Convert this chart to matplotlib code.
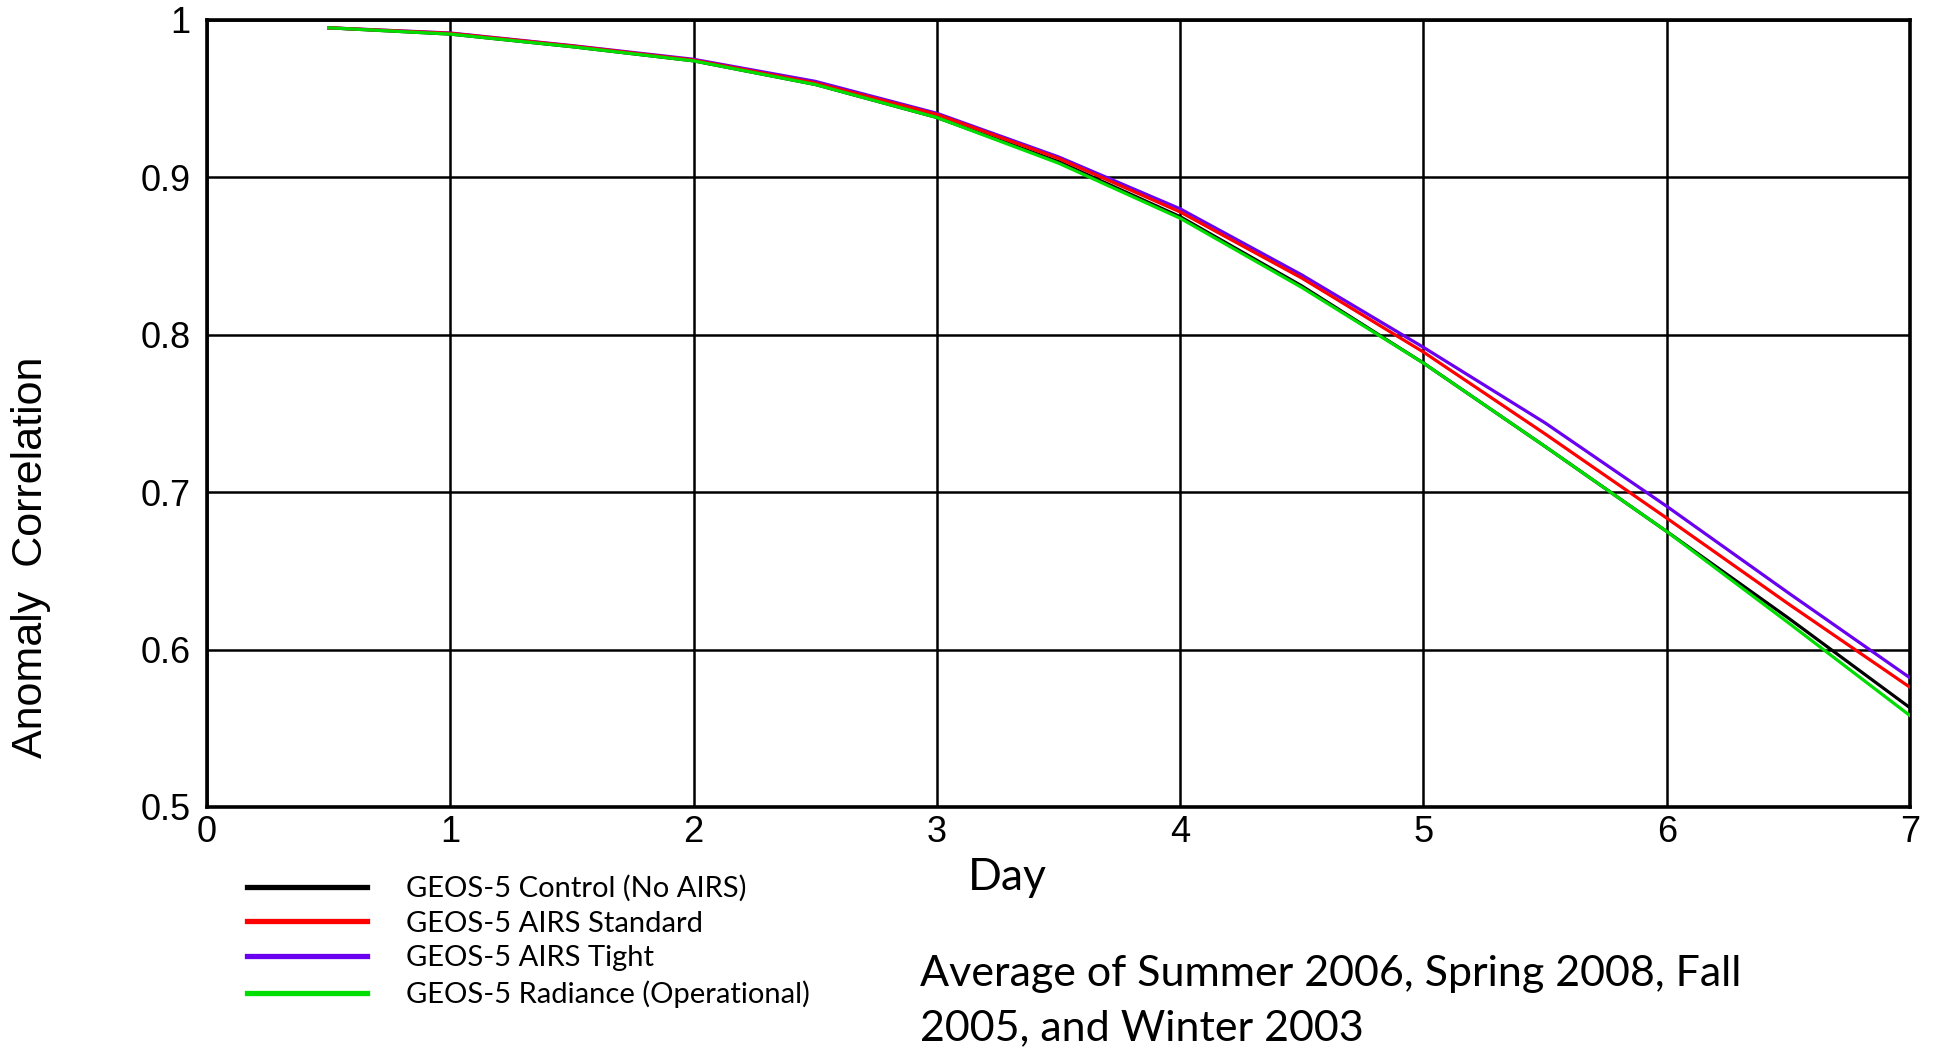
import numpy as np
import matplotlib.pyplot as plt

# forecast day
days = [0.5, 1, 1.5, 2, 2.5, 3, 3.5, 4, 4.5, 5, 5.5, 6, 6.5, 7]

control = [0.995, 0.991, 0.983, 0.974, 0.959, 0.938, 0.910, 0.875, 0.831, 0.782, 0.729, 0.675, 0.620, 0.563]
airs_std = [0.995, 0.9915, 0.9835, 0.9745, 0.960, 0.940, 0.912, 0.878, 0.836, 0.789, 0.737, 0.6835, 0.629, 0.576]
airs_tight = [0.995, 0.9917, 0.9837, 0.975, 0.961, 0.9407, 0.913, 0.880, 0.838, 0.792, 0.744, 0.691, 0.636, 0.582]
radiance = [0.995, 0.991, 0.983, 0.974, 0.959, 0.938, 0.909, 0.874, 0.830, 0.782, 0.729, 0.675, 0.617, 0.558]

labels = ["GEOS-5 Control (No AIRS)", "GEOS-5 AIRS Standard",
          "GEOS-5 AIRS Tight", "GEOS-5 Radiance (Operational)"]
xticks = [0, 1, 2, 3, 4, 5, 6, 7]
yticks = [0.5, 0.6, 0.7, 0.8, 0.9, 1.0]
yticklabels = ["0.5", "0.6", "0.7", "0.8", "0.9", "1"]

fig = plt.figure(figsize=(19.38, 10.49), dpi=100)
ax = fig.add_axes([0.1068, 0.2307, 0.8788, 0.7503])

lw = 2.3
l_ctrl, = ax.plot(days, control, color="black", lw=lw, zorder=3)
l_tight, = ax.plot(days, airs_tight, color="#6a00f0", lw=lw, zorder=4)
l_std, = ax.plot(days, airs_std, color="#ff0000", lw=lw, zorder=5)
l_rad, = ax.plot(days, radiance, color="#00dd00", lw=lw, zorder=6)

ax.set_xlim(0, 7)
ax.set_ylim(0.5, 1.0)
ax.set_xticks(xticks)
ax.set_yticks(yticks)
ax.set_yticklabels(yticklabels)
ax.grid(True, color="black", lw=1.8)
ax.set_axisbelow(True)
for s in ax.spines.values():
    s.set_linewidth(2.6)
    s.set_color("black")
ax.tick_params(length=0, labelsize=26)
ax.tick_params(axis="x", pad=6)
ax.tick_params(axis="y", pad=12)
for t in ax.get_xticklabels() + ax.get_yticklabels():
    t.set_family("Liberation Sans")

fig.text(31 / 1938, 1 - 557 / 1049, "Anomaly  Correlation", rotation=90,
         ha="center", va="center", fontsize=31, family="Liberation Sans")
fig.text(968 / 1938, 1 - 878 / 1049, "Day", ha="left", va="center",
         fontsize=32, family="Lato")
fig.text(920 / 1938, 1 - 1001 / 1049,
         "Average of Summer 2006, Spring 2008, Fall\n2005, and Winter 2003",
         ha="left", va="center", fontsize=31, family="Lato", linespacing=1.5)

leg = fig.legend([l_ctrl, l_std, l_tight, l_rad], labels, loc="upper left",
                 bbox_to_anchor=(247 / 1938, 1 - 875 / 1049), frameon=False,
                 prop={"family": "Lato", "size": 21}, handlelength=4.1,
                 handletextpad=1.35, labelspacing=0.3, borderpad=0,
                 borderaxespad=0)
for h in leg.get_lines():
    h.set_linewidth(3.8)

fig.savefig("out.png", dpi=100)
